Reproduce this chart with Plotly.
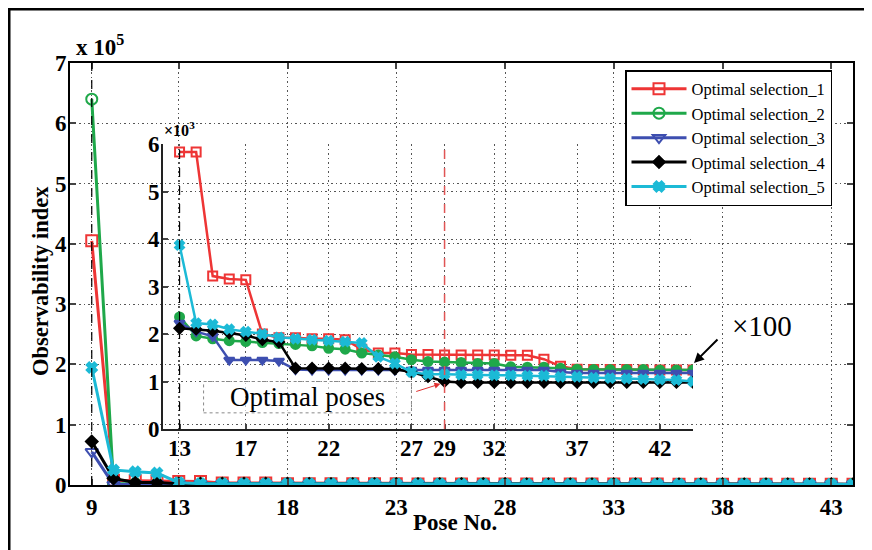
import plotly.graph_objects as go

# ---------------- data ----------------
poses = list(range(9, 45))
inset_poses = list(range(13, 45))

sel1 = [405000, 8000, 7000, 7000,
        5830, 5830, 3220, 3160, 3140, 2000, 1920, 1920, 1900, 1900, 1880, 1680,
        1600, 1600, 1570, 1570, 1560, 1560, 1560, 1560, 1550, 1550, 1470, 1320,
        1260, 1250, 1250, 1250, 1240, 1240, 1240, 1240]
sel2 = [640000, 2000, 2000, 2000,
        2360, 1960, 1900, 1860, 1840, 1820, 1800, 1780, 1750, 1700, 1680, 1600,
        1560, 1520, 1460, 1420, 1410, 1400, 1380, 1380, 1310, 1300, 1300, 1280,
        1260, 1250, 1250, 1250, 1250, 1240, 1240, 1240]
sel3 = [55000, 500, 1500, 1500,
        2230, 2050, 1950, 1450, 1450, 1450, 1430, 1250, 1240, 1240, 1240, 1240,
        1240, 1240, 1240, 1240, 1240, 1240, 1240, 1240, 1240, 1240, 1240, 1200,
        1180, 1180, 1180, 1180, 1180, 1180, 1180, 1180]
sel4 = [72000, 11000, 4000, 4000,
        2120, 2100, 2070, 2020, 1970, 1880, 1830, 1280, 1280, 1280, 1280, 1270,
        1270, 1260, 1200, 1100, 1000, 980, 980, 980, 980, 980, 980, 980,
        980, 980, 980, 980, 980, 980, 980, 980]
sel5 = [195000, 25000, 22000, 20000,
        3870, 2230, 2200, 2100, 2050, 2000, 1930, 1900, 1880, 1860, 1840, 1810,
        1520, 1380, 1200, 1150, 1150, 1140, 1140, 1130, 1130, 1120, 1120, 1100,
        1100, 1080, 1070, 1060, 1050, 1040, 1030, 1000]

names = ["Optimal selection_1", "Optimal selection_2", "Optimal selection_3",
         "Optimal selection_4", "Optimal selection_5"]

main_xticks = [9, 13, 18, 23, 28, 33, 38, 43]
main_yticks = [0, 1, 2, 3, 4, 5, 6, 7]
inset_xticks = [13, 17, 22, 27, 29, 32, 37, 42]
inset_yticks = [0, 1, 2, 3, 4, 5, 6]

# ---------------- styles ----------------
colors = ["#ee3535", "#1fa84a", "#3e4fb0", "#000000", "#1cbad6"]
main_symbols = ["square-open", "circle-open", "triangle-down-open", "diamond", "x"]
inset_symbols = ["square-open", "circle", "triangle-down", "diamond", "x"]
main_sizes = [11, 11, 11, 9, 9]
inset_sizes = [9, 9, 9, 8, 8]
SERIF = "Liberation Serif"

# The page body has an 8 px margin, so figure pixel = window pixel - 8.
W, H = 864, 542
L, T = 62, 55
PW, PH = 783, 422
R = W - L - PW
B = H - T - PH


def px(xw):
    return (xw - 8 - L) / PW


def py(yw):
    return (T + PH - (yw - 8)) / PH


series = [sel1, sel2, sel3, sel4, sel5]

fig = go.Figure()

for i, s in enumerate(series):
    fig.add_trace(go.Scatter(
        x=poses, y=[v / 1e5 for v in s], name=names[i], mode="lines+markers",
        line=dict(color=colors[i], width=3),
        marker=dict(symbol=main_symbols[i], size=main_sizes[i], color=colors[i],
                    line=dict(color=colors[i], width=2)),
        xaxis="x", yaxis="y", showlegend=True))

for i, s in enumerate(series):
    fig.add_trace(go.Scatter(
        x=inset_poses, y=[v / 1e3 for v in s[4:]], mode="lines+markers",
        line=dict(color=colors[i], width=2.5),
        marker=dict(symbol=inset_symbols[i], size=inset_sizes[i], color=colors[i],
                    line=dict(color=colors[i], width=2)),
        xaxis="x2", yaxis="y2", showlegend=False))

tick_font = dict(family=SERIF, size=23, color="black")
grid_col = "#555"
grid_dash = "1.5px,3px"

fig.update_layout(
    width=W, height=H, autosize=False,
    margin=dict(l=L, r=R, t=T, b=B),
    paper_bgcolor="white", plot_bgcolor="rgba(0,0,0,0)",
    font=dict(family=SERIF, color="black"),
    xaxis=dict(domain=[0, 1], range=[8, 44], tickvals=main_xticks,
               ticktext=["<b>%d</b>" % t for t in main_xticks],
               tickfont=tick_font, ticks="inside", ticklen=6, tickwidth=1.5,
               showline=True, linecolor="black", linewidth=2, mirror="ticks",
               showgrid=True, gridcolor=grid_col, griddash=grid_dash, gridwidth=1,
               zeroline=False, anchor="y"),
    yaxis=dict(domain=[0, 1], range=[0, 7], tickvals=main_yticks,
               ticktext=["<b>%d</b>" % t for t in main_yticks],
               tickfont=tick_font, ticks="inside", ticklen=6, tickwidth=1.5,
               showline=True, linecolor="black", linewidth=2, mirror="ticks",
               showgrid=True, gridcolor=grid_col, griddash=grid_dash, gridwidth=1,
               zeroline=False, anchor="x", ticklabelstandoff=-3),
    xaxis2=dict(domain=[px(163), px(693)], range=[12, 44], tickvals=inset_xticks,
                ticktext=["<b>%d</b>" % t for t in inset_xticks],
                tickfont=tick_font, ticks="inside", ticklen=5, tickwidth=1.5,
                showline=True, linecolor="#222", linewidth=2, mirror=False,
                showgrid=True, gridcolor=grid_col, griddash=grid_dash, gridwidth=1,
                zeroline=False, anchor="y2", ticklabelstandoff=-3),
    yaxis2=dict(domain=[py(429), py(144)], range=[0, 6], tickvals=inset_yticks,
                ticktext=["<b>%d</b>" % t for t in inset_yticks],
                tickfont=tick_font, ticks="inside", ticklen=5, tickwidth=1.5,
                showline=True, linecolor="#222", linewidth=2, mirror=False,
                showgrid=True, gridcolor=grid_col, griddash=grid_dash, gridwidth=1,
                zeroline=False, anchor="x2", ticklabelstandoff=-3),
    legend=dict(x=px(625), y=py(70), xanchor="left", yanchor="top",
                bgcolor="white", bordercolor="black", borderwidth=1.5,
                font=dict(family=SERIF, size=16.5, color="black"),
                tracegroupgap=0, itemwidth=55),
)

shapes = [
    dict(type="line", xref="x", yref="y", x0=9, x1=9, y0=0, y1=7,
         line=dict(color="black", width=1.2, dash="dash")),
    dict(type="line", xref="x2", yref="y2", x0=13, x1=13, y0=0, y1=6.1,
         line=dict(color="black", width=1.2, dash="dash")),
    dict(type="line", xref="x2", yref="y2", x0=29, x1=29, y0=0, y1=6,
         line=dict(color="#e05555", width=1.5, dash="dash")),
    dict(type="rect", xref="x2", yref="y2", x0=14.45, x1=27.0, y0=0.34, y1=1.0,
         line=dict(color="#888", width=1, dash="dot"),
         fillcolor="rgba(255,255,255,0.6)"),
    # outer frame
    dict(type="rect", xref="paper", yref="paper",
         x0=px(9), x1=px(940), y0=py(640), y1=py(9),
         line=dict(color="black", width=3)),
]
fig.update_layout(shapes=shapes)


def ann(text, xw, yw, size, **kw):
    d = dict(text=text, xref="paper", yref="paper", x=px(xw), y=py(yw),
             xanchor="center", yanchor="middle", showarrow=False,
             font=dict(family=SERIF, size=size, color="black"))
    d.update(kw)
    return d


annotations = [
    ann("<b>Observability index</b>", 40, 281, 22.5, textangle=-90),
    ann("<b>Pose No.</b>", 455, 522, 23),
    ann("<b>x 10<sup>5</sup></b>", 74, 46, 23, xanchor="left"),
    ann("<b>×10<sup>3</sup></b>", 162, 129, 16, xanchor="left"),
    ann("×100", 762, 326, 29),
    dict(text="Optimal poses", xref="x2", yref="y2", x=20.72, y=0.67,
         xanchor="center", yanchor="middle",
         showarrow=False, font=dict(family=SERIF, size=27, color="black")),
    dict(text="", xref="x2", yref="y2", x=28.75, y=0.95,
         axref="x2", ayref="y2", ax=27.2, ay=0.78, showarrow=True,
         arrowhead=2, arrowsize=1.2, arrowwidth=1, arrowcolor="#e03030"),
    dict(text="", xref="paper", yref="paper", x=px(694), y=py(363), ax=25, ay=-25,
         showarrow=True, arrowhead=2, arrowsize=1, arrowwidth=2, arrowcolor="black"),
]
fig.update_layout(annotations=annotations)

fig.write_html("out.html")
